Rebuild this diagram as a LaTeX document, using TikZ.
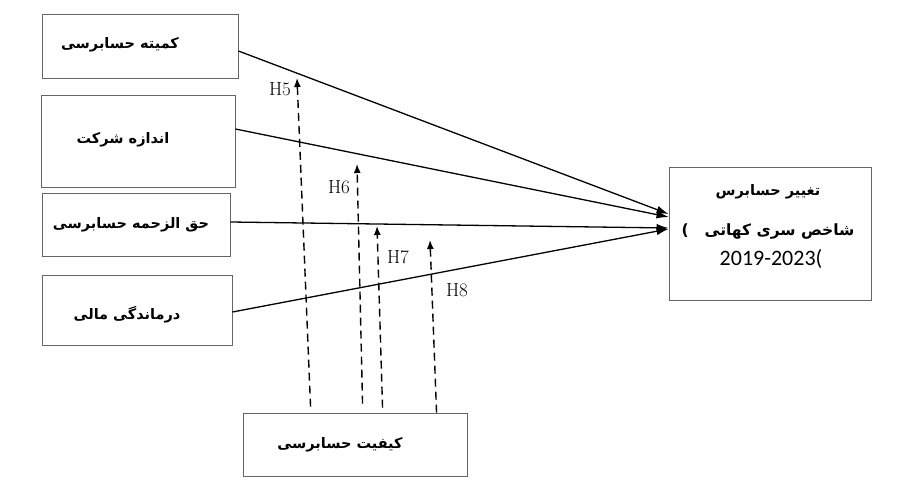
\documentclass[tikz,border=0pt]{standalone}
\usepackage{fontspec}
\usepackage{tikz}
\usetikzlibrary{arrows.meta,calc}
\TeXXeTstate=1
\newfontfamily\farsi[Script=Arabic]{DejaVu Sans}
\newfontfamily\datefont{Carlito}
\newcommand{\fa}[1]{{\farsi\bfseries\beginR #1\endR}}

\begin{document}
\begin{tikzpicture}[x=1pt,y=-1pt,
    box/.style={draw=black!60,line width=0.9pt,inner sep=0pt},
    falabel/.style={font=\fontsize{14.5}{17}\selectfont},
    effect/.style={line width=1.3pt,-{Latex[length=12pt,width=8pt]}},
    moder/.style={line width=1.4pt,dash pattern=on 8pt off 5pt,-{Latex[length=9pt,width=7pt]}},
    hyp/.style={font=\fontsize{19}{22}\selectfont}]
  \useasboundingbox[fill=white] (0,0) rectangle (902,486);

  % boxes
  \node[box,minimum width=196pt,minimum height=64pt] (aud) at (140,46) {};
  \node[box,minimum width=194pt,minimum height=92pt] (size) at (138,141) {};
  \node[box,minimum width=188pt,minimum height=63pt] (fee) at (136,224.5) {};
  \node[box,minimum width=190pt,minimum height=70pt] (dist) at (137,310) {};
  \node[box,minimum width=202pt,minimum height=133pt] (change) at (770,233.5) {};
  \node[box,minimum width=224pt,minimum height=63pt] (qual) at (355,444.5) {};

  % texts
  \node[falabel] (audT) at (120,45) {\fa{کمیته حسابرسی}};
  \node[falabel] (sizeT) at (123,140) {\fa{اندازه شرکت}};
  \node[falabel] (feeT) at (131,225) {\fa{حق الزحمه حسابرسی}};
  \node[falabel] (distT) at (127,315) {\fa{درماندگی مالی}};
  \node[falabel] (qualT) at (340,445) {\fa{کیفیت حسابرسی}};
  \node[falabel] (changeA) at (768,192) {\fa{تغییر حسابرس}};
  \node[falabel,font=\fontsize{15.5}{18}\selectfont] (changeB) at (768,232)
    {{\farsi\bfseries )}\hspace{16pt}\fa{شاخص سری کهاتی}};
  \node[font=\datefont\fontsize{22}{25}\selectfont] (changeC) at (771,259) {2019-2023(};

  % direct effects
  \draw[effect] ([yshift=-5pt]aud.east) -- ([yshift=19.5pt]change.west);
  \draw[effect] ([yshift=12pt]size.east) -- ([yshift=16.5pt]change.west);
  \draw[effect] ([yshift=2.5pt]fee.east) -- ([yshift=5.5pt]change.west);
  \draw[effect] ([yshift=-2pt]dist.east) -- ([yshift=4.5pt]change.west);

  % moderating paths
  \coordinate (h5) at (297,78);
  \coordinate (h6) at (357,164);
  \coordinate (h7) at (377,226);
  \coordinate (h8) at (430,240);
  \draw[moder] ($(qual.north west)+(68,-6)$) -- (h5);
  \draw[moder] ($(qual.north west)+(120,-9)$) -- (h6);
  \draw[moder] ($(qual.north west)+(140,-5)$) -- (h7);
  \draw[moder] ($(qual.north west)+(194,0)$) -- (h8);

  \node[hyp] (H5) at (280,89) {H5};
  \node[hyp] (H6) at (339,187) {H6};
  \node[hyp] (H7) at (398,257) {H7};
  \node[hyp] (H8) at (457,290) {H8};
\end{tikzpicture}
\end{document}
